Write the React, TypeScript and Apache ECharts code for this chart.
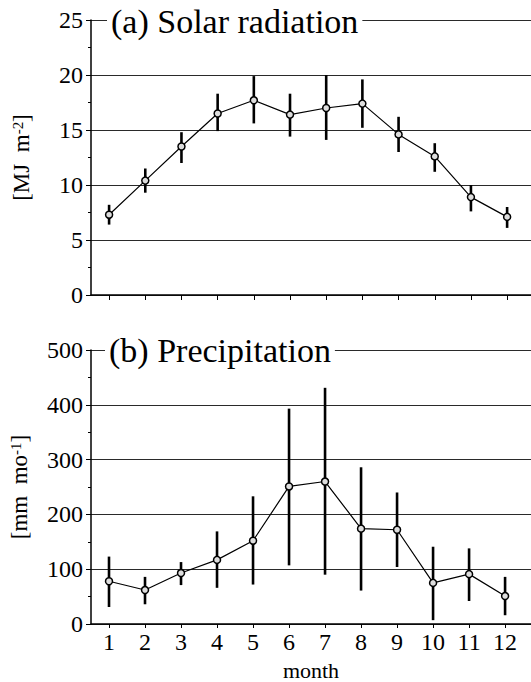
import React, { useEffect, useRef } from "react";
import * as echarts from "echarts";

const months = [1, 2, 3, 4, 5, 6, 7, 8, 9, 10, 11, 12];
const solarMean = [7.3, 10.4, 13.5, 16.5, 17.7, 16.4, 17.0, 17.4, 14.6, 12.6, 8.9, 7.1];
const solarHigh = [8.2, 11.5, 14.8, 18.3, 19.9, 18.3, 20.0, 19.6, 16.2, 13.8, 10.0, 8.0];
const solarLow = [6.4, 9.3, 12.0, 14.9, 15.6, 14.4, 14.1, 15.2, 13.0, 11.2, 7.6, 6.1];
const precipMean = [78, 62, 93, 117, 152, 251, 260, 174, 172, 75, 91, 51];
const precipHigh = [123, 86, 113, 169, 233, 393, 431, 286, 240, 141, 138, 86];
const precipLow = [31, 36, 71, 66, 72, 107, 90, 61, 104, 7, 42, 16];

const FONT = "'Liberation Serif', 'DejaVu Serif', serif";

const errRender = (params: any, api: any) => {
  const x = api.value(0);
  const lo = api.coord([x, api.value(1)]);
  const hi = api.coord([x, api.value(2)]);
  return {
    type: "line",
    shape: { x1: lo[0], y1: lo[1], x2: hi[0], y2: hi[1] },
    style: { stroke: "#000", lineWidth: 2.6 },
  };
};

export default function App() {
  const ref = useRef<HTMLDivElement>(null);
  useEffect(() => {
    if (!ref.current) return;
    const chart = echarts.init(ref.current, null, { renderer: "svg" });
    const axisCommonY = {
      type: "value",
      axisLine: { show: true, lineStyle: { color: "#000", width: 1.5 } },
      axisTick: { show: true, length: 5, lineStyle: { color: "#000", width: 1 } },
      minorTick: { show: true, splitNumber: 2, length: 3, lineStyle: { color: "#000", width: 1 } },
      splitLine: { show: true, lineStyle: { color: "#2a2a2a", width: 1.2 } },
      axisLabel: { color: "#000", fontFamily: FONT, fontSize: 24, margin: 8 },
      nameLocation: "middle",
      nameRotate: 90,
    };
    const titleStyle = { fontFamily: FONT, fontSize: 34, fontWeight: "normal", color: "#000", lineHeight: 34 };
    const supRich = { sup: { fontFamily: FONT, fontSize: 15, verticalAlign: "top", color: "#000", padding: [0, 0, 6, 0] } };
    const option: any = {
      animation: false,
      backgroundColor: "#fff",
      textStyle: { fontFamily: FONT },
      title: [
        {
          text: "(a) Solar radiation",
          left: 107,
          top: 4,
          padding: [0, 4],
          backgroundColor: "#fff",
          textStyle: titleStyle,
        },
        {
          text: "(b) Precipitation",
          left: 105,
          top: 333,
          padding: [0, 4],
          backgroundColor: "#fff",
          textStyle: titleStyle,
        },
      ],
      grid: [
        { left: 91, right: 0, top: 20, height: 275 },
        { left: 88, right: 0, top: 350, height: 276 },
      ],
      xAxis: [
        {
          type: "value",
          gridIndex: 0,
          min: 0.5,
          max: 12.66,
          axisLine: { show: true, onZero: false, lineStyle: { color: "#000", width: 1.5 } },
          axisTick: { show: true, customValues: months, length: 5, lineStyle: { color: "#000", width: 1 } },
          axisLabel: { show: false, customValues: months },
          splitLine: { show: false },
        },
        {
          type: "value",
          gridIndex: 1,
          min: 0.5,
          max: 12.72,
          axisLine: { show: true, onZero: false, lineStyle: { color: "#000", width: 1.5 } },
          axisTick: { show: true, customValues: months, length: 4, lineStyle: { color: "#000", width: 1 } },
          axisLabel: { show: true, customValues: months, color: "#000", fontFamily: FONT, fontSize: 24, margin: 6 },
          splitLine: { show: false },
          name: "month",
          nameLocation: "middle",
          nameGap: 35,
          nameTextStyle: { color: "#000", fontFamily: FONT, fontSize: 22 },
        },
      ],
      yAxis: [
        {
          ...axisCommonY,
          gridIndex: 0,
          min: 0,
          max: 25,
          interval: 5,
          name: "[MJ  m{sup|-2}]",
          nameGap: 58,
          nameTextStyle: { color: "#000", fontFamily: FONT, fontSize: 23, rich: supRich },
        },
        {
          ...axisCommonY,
          gridIndex: 1,
          min: 0,
          max: 500,
          interval: 100,
          name: "[mm  mo{sup|-1}]",
          nameGap: 60,
          nameTextStyle: { color: "#000", fontFamily: FONT, fontSize: 23, rich: supRich },
        },
      ],
      series: [
        {
          type: "custom",
          xAxisIndex: 0,
          yAxisIndex: 0,
          renderItem: errRender,
          encode: { x: 0, y: [1, 2] },
          data: months.map((m, i) => [m, solarLow[i], solarHigh[i]]),
          z: 2,
        },
        {
          type: "line",
          xAxisIndex: 0,
          yAxisIndex: 0,
          data: months.map((m, i) => [m, solarMean[i]]),
          symbol: "circle",
          symbolSize: 7,
          lineStyle: { color: "#000", width: 1.2 },
          itemStyle: { color: "#ddd", borderColor: "#000", borderWidth: 1.5 },
          z: 3,
        },
        {
          type: "custom",
          xAxisIndex: 1,
          yAxisIndex: 1,
          renderItem: errRender,
          encode: { x: 0, y: [1, 2] },
          data: months.map((m, i) => [m, precipLow[i], precipHigh[i]]),
          z: 2,
        },
        {
          type: "line",
          xAxisIndex: 1,
          yAxisIndex: 1,
          data: months.map((m, i) => [m, precipMean[i]]),
          symbol: "circle",
          symbolSize: 7,
          lineStyle: { color: "#000", width: 1.2 },
          itemStyle: { color: "#ddd", borderColor: "#000", borderWidth: 1.5 },
          z: 3,
        },
      ],
    };
    chart.setOption(option);
    return () => chart.dispose();
  }, []);
  return (
    <div
      ref={ref}
      style={{ position: "fixed", left: 0, top: 0, width: 531, height: 682, background: "#fff" }}
    />
  );
}
